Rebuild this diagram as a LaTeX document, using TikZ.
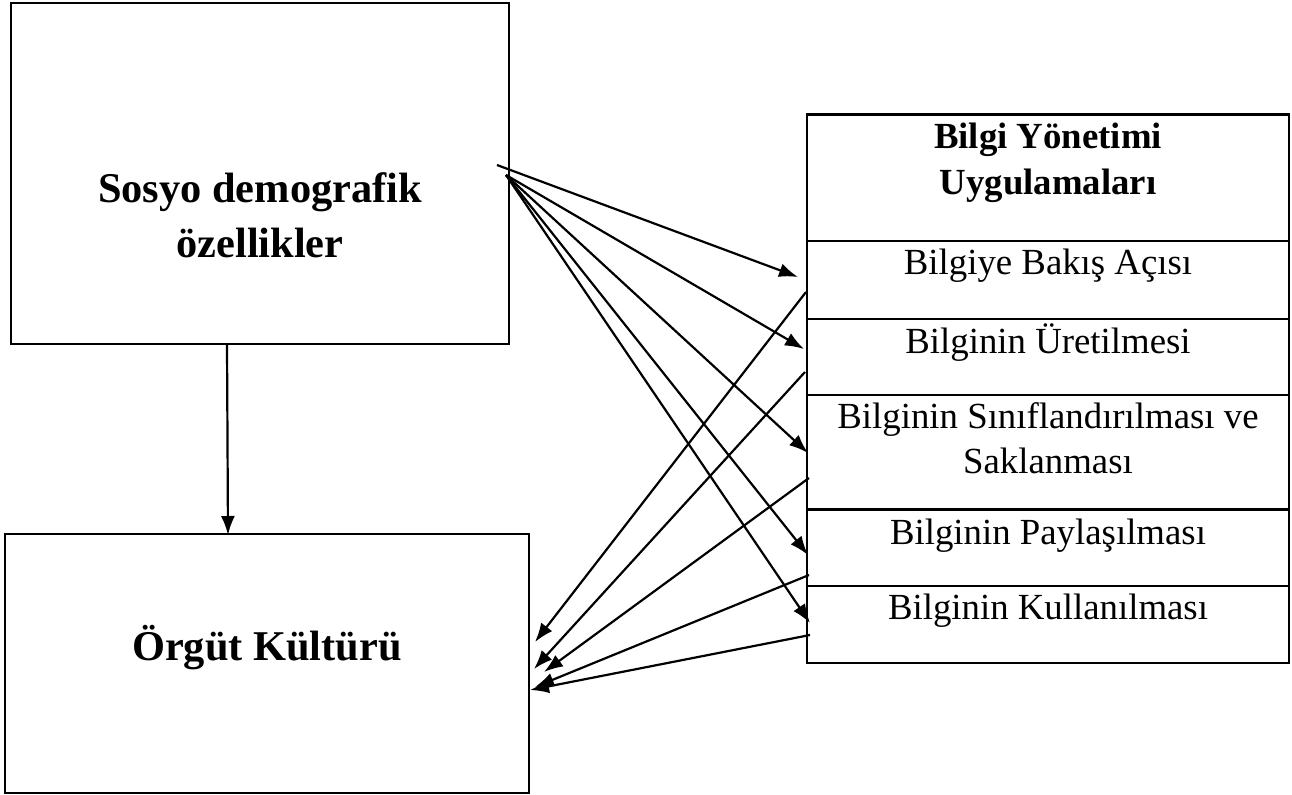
\documentclass[tikz,border=0pt]{standalone}
\usepackage{fontspec}
\setmainfont{Liberation Serif}
\usetikzlibrary{arrows.meta}
\begin{document}
\begin{tikzpicture}[x=0.5pt,y=-0.5pt,
  boxnode/.style={draw=black,line width=1.1pt,rectangle,inner sep=0pt,fill=white},
  bigtext/.style={anchor=base,inner sep=0pt,font=\fontsize{21.2}{25}\selectfont\bfseries},
  headtext/.style={anchor=base,inner sep=0pt,font=\fontsize{18.4}{22}\selectfont\bfseries},
  itemtext/.style={anchor=base,inner sep=0pt,font=\fontsize{18.4}{22}\selectfont},
  arr/.style={line width=1.1pt,-{Latex[length=9.5pt,width=7pt]}}]
\useasboundingbox (0,0) rectangle (1292,794);
% left boxes
\node[boxnode,minimum width=249pt,minimum height=170.5pt] (sosyo) at (260,173.5) {};
\node[boxnode,minimum width=262pt,minimum height=129.5pt] (orgut) at (267,663.5) {};
% right box rows
\node[boxnode,minimum width=241pt,minimum height=63.25pt] (bym) at (1048,177.75) {};
\node[boxnode,minimum width=241pt,minimum height=39pt] (r1) at (1048,280) {};
\node[boxnode,minimum width=241pt,minimum height=38pt] (r2) at (1048,357) {};
\node[boxnode,minimum width=241pt,minimum height=57.25pt] (r3) at (1048,452.25) {};
\node[boxnode,minimum width=241pt,minimum height=38.25pt] (r4) at (1048,547.75) {};
\node[boxnode,minimum width=241pt,minimum height=38.5pt] (r5) at (1048,624.5) {};
% texts
\node[bigtext] (t1a) at (260,202) {Sosyo demografik};
\node[bigtext] (t1b) at (260,257) {özellikler};
\node[bigtext] (t2) at (267,660) {Örgüt Kültürü};
\node[headtext] (h1) at (1048,148) {Bilgi Yönetimi};
\node[headtext] (h2) at (1048,194) {Uygulamaları};
\node[itemtext] (i1) at (1048,274) {Bilgiye Bakış Açısı};
\node[itemtext] (i2) at (1048,353) {Bilginin Üretilmesi};
\node[itemtext] (i3a) at (1048,428) {Bilginin Sınıflandırılması ve};
\node[itemtext] (i3b) at (1048,473) {Saklanması};
\node[itemtext] (i4) at (1048,544) {Bilginin Paylaşılması};
\node[itemtext] (i5) at (1048,619) {Bilginin Kullanılması};
% connector end points
\coordinate (sA) at (497,165);
\coordinate (sB) at (506,175);
\coordinate (f1) at (798,277);
\coordinate (f2) at (804,349);
\coordinate (f3) at (808,453);
\coordinate (f4) at (808,555);
\coordinate (f5) at (810,623);
\coordinate (b1) at (806,292);
\coordinate (b2) at (805,372);
\coordinate (b3) at (809,478);
\coordinate (b4) at (809,575);
\coordinate (b5) at (810,635);
\coordinate (e1) at (535,642);
\coordinate (e2) at (534,669);
\coordinate (e3) at (544,672);
\coordinate (e4) at (535,687);
\coordinate (e5) at (530,690);
\coordinate (dA) at (227,345);
\coordinate (dB) at (228,535);
% connectors
\draw[arr] (dA) -- (dB);
\draw[arr] (sA) -- (f1);
\draw[arr] (sB) -- (f2);
\draw[arr] (sB) -- (f3);
\draw[arr] (sB) -- (f4);
\draw[arr] (sB) -- (f5);
\draw[arr] (b1) -- (e1);
\draw[arr] (b2) -- (e2);
\draw[arr] (b3) -- (e3);
\draw[arr] (b4) -- (e4);
\draw[arr] (b5) -- (e5);
\end{tikzpicture}
\end{document}
